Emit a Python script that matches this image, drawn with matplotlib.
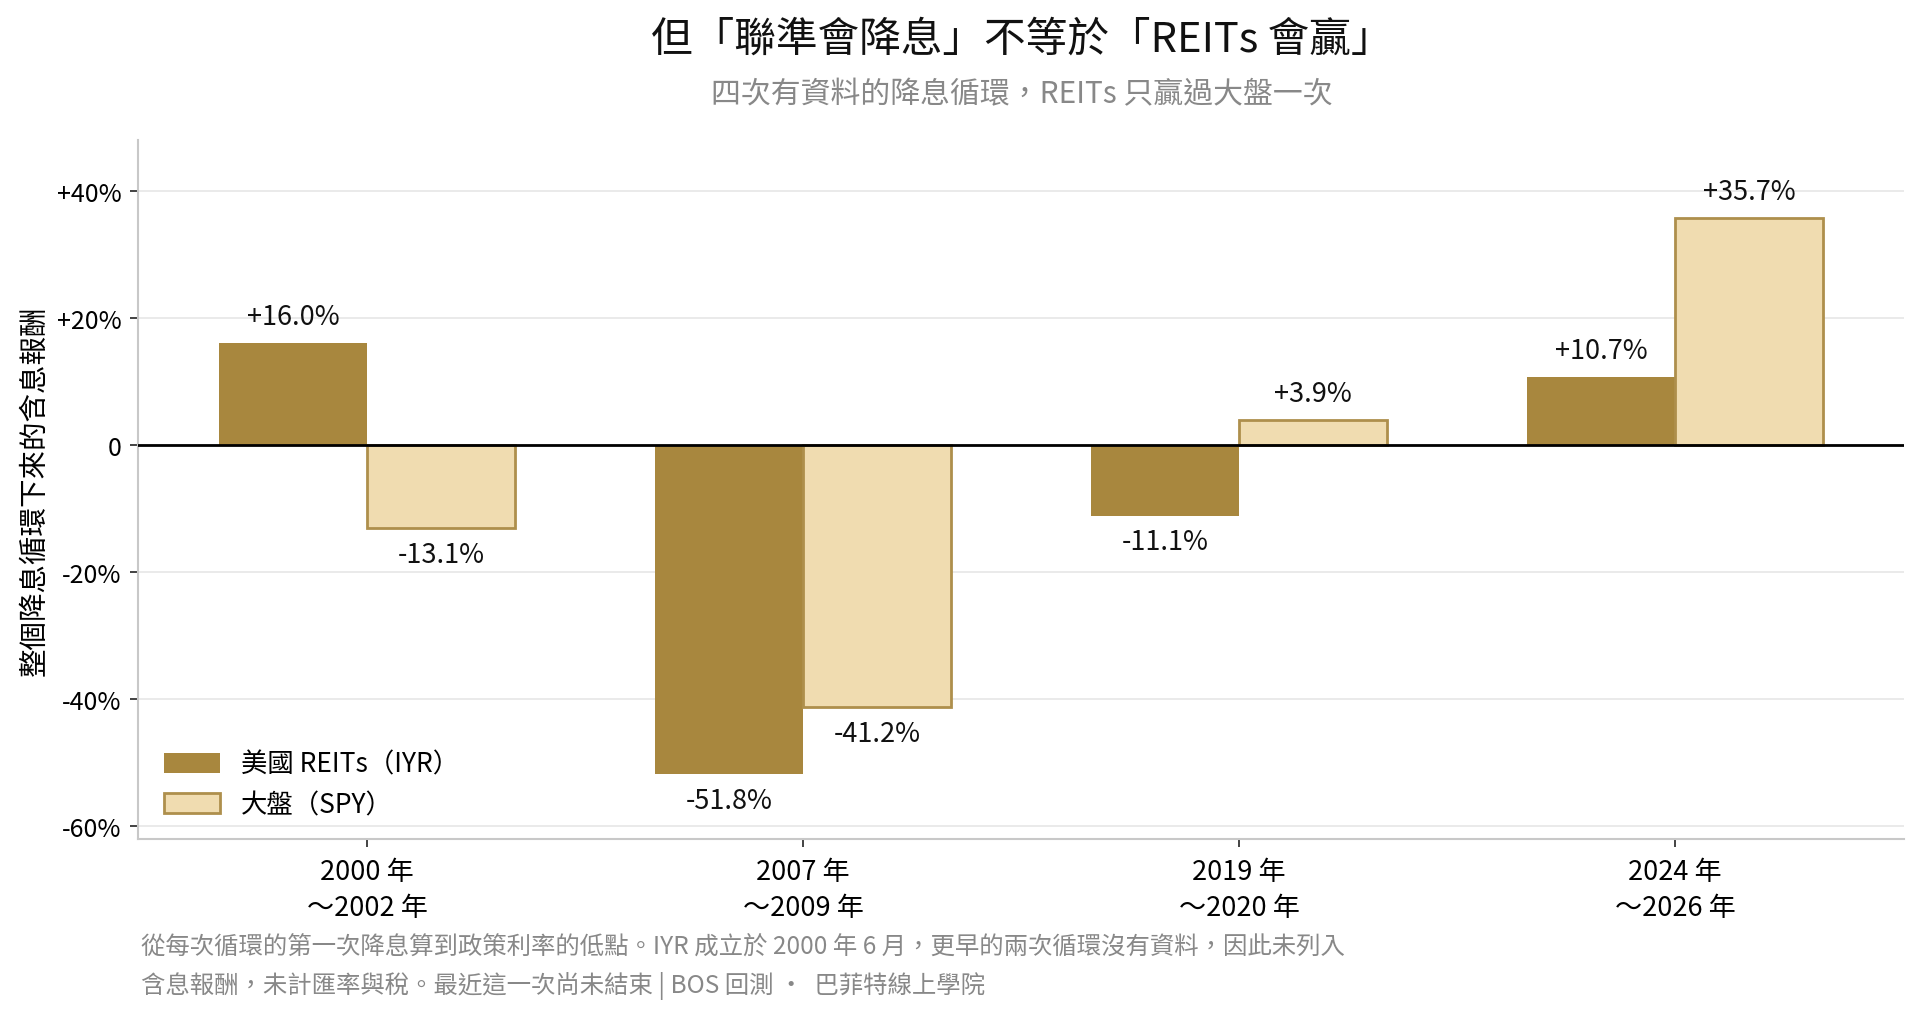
import matplotlib
matplotlib.use("Agg")
import matplotlib.pyplot as plt
import numpy as np

plt.rcParams['font.family'] = ['Noto Sans CJK TC', 'DejaVu Sans']

cycles = ["2000 年\n～2002 年", "2007 年\n～2009 年", "2019 年\n～2020 年", "2024 年\n～2026 年"]
reits = [16.0, -51.8, -11.1, 10.7]
spy = [-13.1, -41.2, 3.9, 35.7]
yticks = [40, 20, 0, -20, -40, -60]
ytick_labels = ["+40%", "+20%", "0", "-20%", "-40%", "-60%"]

title = "但「聯準會降息」不等於「REITs 會贏」"
subtitle = "四次有資料的降息循環，REITs 只贏過大盤一次"
ylabel = "整個降息循環下來的含息報酬"
footnote = ("從每次循環的第一次降息算到政策利率的低點。IYR 成立於 2000 年 6 月，更早的兩次循環沒有資料，因此未列入\n"
            "含息報酬，未計匯率與稅。最近這一次尚未結束 | BOS 回測 ·  巴菲特線上學院")

C_REIT = "#A8873E"
C_SPY = "#F0DCB0"
C_EDGE = "#AE8F4C"

fig = plt.figure(figsize=(19.2, 10.12), dpi=100)
ax = fig.add_axes([0.0719, 0.170, 0.9198, 0.6907])

x = np.arange(len(cycles))
w = 0.34
ax.bar(x - w/2, reits, w, color=C_REIT, label="美國 REITs（IYR）", zorder=3)
ax.bar(x + w/2, spy, w, color=C_SPY, edgecolor=C_EDGE, linewidth=2, label="大盤（SPY）", zorder=3)

def fmt(v):
    return f"{v:+.1f}%" if v > 0 else f"{v:.1f}%"

for xs, vals in ((x - w/2, reits), (x + w/2, spy)):
    for xi, v in zip(xs, vals):
        off = 19 if v > 0 else -19
        ax.annotate(fmt(v), (xi, v), xytext=(0, off), textcoords="offset points",
                    ha="center", va="center", fontsize=19.5, color="#111111", zorder=5)

ax.axhline(0, color="black", linewidth=2, zorder=4)
ax.set_xlim(-0.525, 3.525)
ax.set_ylim(-62, 48)
ax.set_yticks(yticks)
ax.set_yticklabels(ytick_labels, fontsize=18)
ax.set_xticks(x)
ax.set_xticklabels(cycles, fontsize=19.5, linespacing=1.42)
ax.grid(axis="y", color="#E6E6E6", linewidth=1.2, zorder=0)
ax.set_axisbelow(True)
for s in ("top", "right"):
    ax.spines[s].set_visible(False)
for s in ("left", "bottom"):
    ax.spines[s].set_color("#C8C8C8")
    ax.spines[s].set_linewidth(1.5)
ax.tick_params(axis="both", length=6, width=1.2, color="#222222", pad=6)
ax.tick_params(axis="x", pad=8)
ax.set_ylabel(ylabel, fontsize=20.5, labelpad=5)

ax.legend(loc="lower left", bbox_to_anchor=(0.0015, -0.004), frameon=False,
          fontsize=19, handlelength=2.1, handleheight=0.8, labelspacing=0.5, handletextpad=0.8)

fig.text(0.532, 0.960, title, ha="center", va="center", fontsize=30, color="#111111")
fig.text(0.532, 0.906, subtitle, ha="center", va="center", fontsize=21.5, color="#888888")
fig.text(0.0734, 0.045, footnote, ha="left", va="center", fontsize=17.6, color="#888888", linespacing=1.6)

fig.savefig("out.png", dpi=100)
